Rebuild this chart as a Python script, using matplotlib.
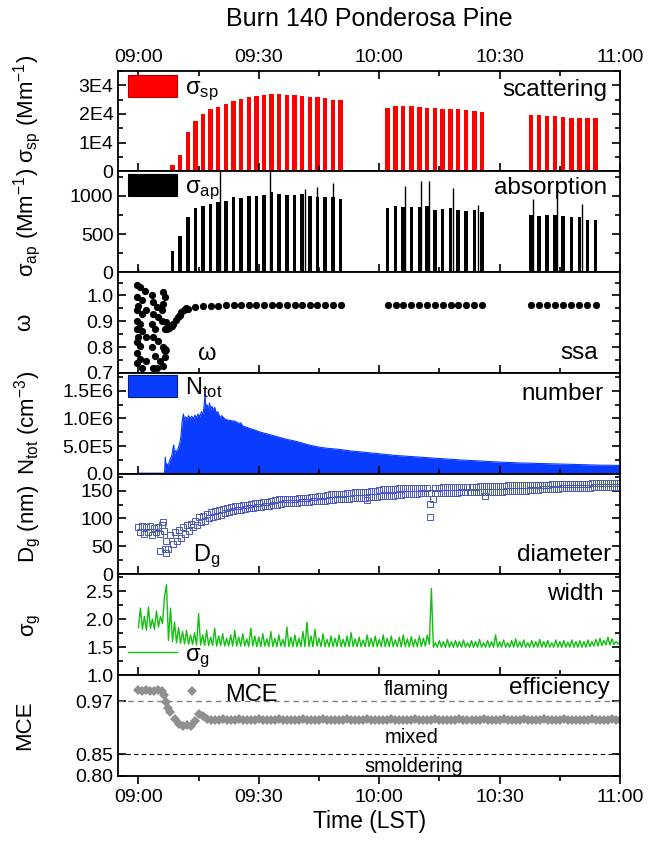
import numpy as np
import matplotlib
matplotlib.use('Agg')
import matplotlib.pyplot as plt
from matplotlib.patches import Patch
from matplotlib.lines import Line2D
from matplotlib.ticker import MultipleLocator, FuncFormatter

plt.rcParams['font.family'] = ['Liberation Sans', 'DejaVu Sans']
plt.rcParams['mathtext.fontset'] = 'custom'
plt.rcParams['mathtext.rm'] = 'Liberation Sans'
plt.rcParams['mathtext.it'] = 'Liberation Sans:italic'
plt.rcParams['mathtext.default'] = 'regular'

# ── Data (time = minutes after 09:00 LST) ─────────────────────
bar_t = [8.5, 10.4, 12.3, 14.2, 16.1, 18.0, 19.9, 21.8, 23.7, 25.6, 27.5, 29.4,
         31.3, 33.2, 35.1, 37.0, 38.9, 40.8, 42.7, 44.6, 46.5, 48.5, 50.4,
         62.1, 64.1, 66.0, 68.0, 70.0, 71.9, 73.9, 75.8, 77.8, 79.7, 81.7, 83.7, 85.6,
         97.8, 99.8, 101.8, 103.8, 105.8, 107.9, 109.9, 111.9, 113.9]
sca = [2300, 5800, 13700, 17500, 20000, 21600, 22400, 23600, 24400, 25300, 25900, 26200,
       26500, 26800, 26800, 26700, 26500, 26200, 26000, 25700, 25500, 24800, 25000,
       22200, 22800, 22800, 22600, 22400, 22200, 21900, 21800, 21700, 21600, 21500, 21100, 20800,
       19700, 19500, 19400, 19100, 18900, 18700, 18700, 18600, 18600]
absn = [280, 470, 730, 840, 870, 890, 920, 935, 985, 975, 995, 995,
        1015, 1045, 1030, 1010, 1010, 1030, 1000, 985, 985, 990, 960,
        842, 864, 860, 855, 860, 870, 820, 829, 835, 811, 798, 810, 790,
        754, 741, 754, 745, 740, 723, 730, 688, 680]

pre_t = [0.9, 2.8, 4.7, 6.6]
pre_sca = [150, 150, 150, 400]
pre_abs = [15, 12, 12, 12]

spike_t = [0.0, 20.3, 32.7, 41.4, 44.5, 48.4, 66.4, 70.5, 72.5, 78.5, 84.5, 98.3, 104.4, 110.5]
spike_v = [60, 1500, 1500, 1090, 1115, 1170, 1127, 1193, 1200, 1105, 877, 965, 974, 894]

ssa_early_t = [-0.4, 0.4, -0.4, 0.8, 0.0, -0.4, 0.8, -0.4, 0.4, -0.4, 0.8, 0.0, -0.4, 0.4,
               -0.4, 0.4, -0.4, 0.8, 1.6, 1.8, 1.8, 1.8,
               3.3, 3.7, 4.6, 3.7, 5.0, 3.3, 4.1, 5.8, 6.2, 6.6, 6.2, 5.8, 3.7, 5.0,
               6.2, 3.3, 4.1, 5.4, 4.6, 6.2, 3.7, 6.6, 6.6, 7.0,
               7.2, 7.6, 7.9, 8.3, 8.7, 9.3, 9.9, 10.3, 10.7, 11.3, 11.9]
ssa_early = [1.039, 1.032, 0.994, 0.981, 0.961, 0.942, 0.929, 0.903, 0.890, 0.870, 0.864,
             0.838, 0.818, 0.805, 0.779, 0.753, 0.740, 0.721, 1.019, 0.942, 0.838, 0.747,
             1.000, 0.974, 0.955, 0.929, 0.916, 0.890, 0.870, 0.903, 1.013, 0.994, 0.968,
             0.942, 0.838, 0.825, 0.799, 0.799, 0.766, 0.747, 0.721, 0.727, 0.721, 0.760,
             0.870, 0.896,
             0.870, 0.875, 0.877, 0.880, 0.890, 0.905, 0.916, 0.925, 0.935, 0.945, 0.953]

ntot_t = [0, 2, 4, 6.5, 6.7, 6.9, 7.1, 7.4, 7.7, 8.0, 8.3, 8.6, 8.8, 9.0, 9.3, 9.6,
          10.0, 10.4, 10.7, 10.9, 11.2, 11.5, 11.8, 12.1, 12.5, 12.9, 13.3, 13.7,
          14.1, 14.5, 14.9, 15.3, 15.7, 16.1, 16.4, 16.6, 16.8, 17.1, 17.4, 17.7,
          18.0, 18.3, 18.6, 19.0, 19.4, 19.8, 20.3, 20.8, 21.5, 22.2, 23.0, 24.0,
          25.0, 25.5, 26.0, 27.0, 28.0, 29.0, 30.0, 31.5, 33.0, 35.0, 37.0, 39.0,
          41.0, 43.0, 45.0, 47.0, 50.0, 53.0, 56.0, 60.0, 64.0, 68.0, 72.0, 76.0,
          80.0, 85.0, 90.0, 95.0, 100.0, 105.0, 110.0, 115.0, 120.0]
ntot = [0.01, 0.01, 0.01, 0.01, 0.30, 0.12, 0.18, 0.14, 0.22, 0.28, 0.32, 0.45, 0.52, 0.35, 0.42, 0.40,
        0.48, 0.58, 0.75, 0.95, 1.08, 0.96, 1.03, 0.98, 1.05, 1.00, 1.04, 0.99,
        1.06, 1.01, 1.08, 1.03, 1.12, 1.08, 1.25, 1.43, 1.18, 1.25, 1.12, 1.28,
        1.15, 1.22, 1.15, 1.20, 1.10, 1.12, 1.02, 1.05, 0.99, 0.97, 0.96, 0.95,
        0.91, 0.92, 0.86, 0.84, 0.81, 0.79, 0.76, 0.73, 0.70, 0.66, 0.62, 0.59,
        0.55, 0.51, 0.48, 0.46, 0.44, 0.41, 0.39, 0.36, 0.33, 0.31, 0.29, 0.27,
        0.25, 0.23, 0.21, 0.195, 0.185, 0.175, 0.165, 0.155, 0.15]

dg_t_upper = np.arange(0, 121)
dg_t_lower = np.arange(0.5, 121)
dg_upper = [85, 87, 84, 86, 83, 85, 88, 60, 70, 76, 80, 84, 88, 91, 96, 102, 105, 108, 111, 114,
            116, 117, 119, 121, 122, 123, 124, 125, 126, 127, 128, 129, 130, 131, 133, 134, 134, 134, 135, 135,
            136, 137, 137, 138, 139, 140, 141, 142, 143, 144, 144, 144, 145, 146, 147, 147, 148, 148, 149, 150,
            151, 152, 152, 153, 153, 154, 154, 154, 154, 155, 155, 155, 155, 146, 155, 155, 156, 156, 156, 156,
            157, 157, 157, 157, 157, 158, 158, 158, 158, 158, 158, 158, 159, 159, 159, 159, 159, 160, 160, 160,
            160, 160, 160, 161, 161, 161, 161, 161, 162, 162, 162, 162, 162, 163, 163, 163, 163, 163, 164, 164, 164]
dg_lower = [76, 72, 76, 71, 75, 73, 78, 46, 54, 60, 66, 72, 78, 84, 88, 93, 96, 100, 102, 105,
            107, 109, 111, 113, 115, 116, 117, 118, 119, 120, 121, 122, 123, 124, 125, 126, 127, 127, 128, 128,
            129, 130, 130, 131, 131, 132, 132, 133, 133, 134, 134, 135, 135, 136, 136, 137, 137, 138, 138, 139,
            140, 140, 141, 141, 142, 142, 143, 143, 144, 144, 145, 145, 145, 134, 145, 145, 146, 146, 146, 146,
            147, 147, 147, 147, 147, 148, 148, 148, 148, 148, 148, 149, 149, 149, 150, 150, 150, 151, 151, 151,
            152, 152, 152, 153, 153, 154, 154, 154, 154, 155, 155, 155, 155, 156, 156, 156, 156, 157, 157, 157, 157]
dg_out_t = [6.2, 6.6, 7.0, 72.6, 72.6, 57.0, 86.3]
dg_out = [93, 45, 38, 126, 103, 133, 140]

sg_t = np.arange(0, 120.5, 0.5)
sg = [1.85, 2.20, 1.82, 2.05, 1.80, 2.22, 1.84, 2.00, 1.82, 2.15, 1.86, 2.05, 1.92, 2.40, 2.62, 1.62, 2.20, 1.60, 1.95, 1.58,
      1.85, 1.57, 1.78, 1.56, 1.80, 1.55, 1.72, 1.55, 1.76, 1.54, 2.10, 1.54, 1.72, 1.53, 1.80, 1.53, 1.68, 1.53, 1.84, 1.52,
      1.70, 1.53, 1.74, 1.52, 1.66, 1.52, 1.72, 1.52, 1.80, 1.52, 1.68, 1.52, 1.74, 1.52, 1.65, 1.51, 1.84, 1.52, 1.70, 1.51,
      1.68, 1.51, 1.74, 1.52, 1.65, 1.51, 1.78, 1.51, 1.66, 1.51, 1.72, 1.52, 1.64, 1.51, 1.86, 1.51, 1.68, 1.51, 1.72, 1.51,
      1.66, 1.51, 1.78, 1.51, 1.95, 1.51, 1.70, 1.51, 1.82, 1.52, 1.66, 1.51, 1.74, 1.51, 1.64, 1.51, 1.70, 1.51, 1.66, 1.51,
      1.72, 1.51, 1.64, 1.51, 1.70, 1.51, 1.76, 1.51, 1.65, 1.51, 1.68, 1.51, 1.63, 1.51, 1.72, 1.51, 1.66, 1.51, 1.70, 1.51,
      1.64, 1.51, 1.72, 1.51, 1.66, 1.51, 1.70, 1.51, 1.63, 1.51, 1.68, 1.51, 1.72, 1.51, 1.65, 1.51, 1.69, 1.51, 1.64, 1.51,
      1.70, 1.51, 1.66, 1.52, 1.72, 1.55, 2.55, 1.50, 1.58, 1.50, 1.62, 1.50, 1.60, 1.50, 1.64, 1.50, 1.60, 1.50, 1.62, 1.50,
      1.60, 1.50, 1.63, 1.50, 1.58, 1.50, 1.62, 1.50, 1.60, 1.50, 1.64, 1.50, 1.58, 1.50, 1.62, 1.50, 1.60, 1.50, 1.72, 1.50,
      1.60, 1.50, 1.63, 1.50, 1.58, 1.50, 1.62, 1.50, 1.65, 1.50, 1.60, 1.50, 1.63, 1.50, 1.58, 1.50, 1.62, 1.50, 1.60, 1.50,
      1.64, 1.50, 1.60, 1.50, 1.62, 1.50, 1.58, 1.50, 1.63, 1.50, 1.60, 1.50, 1.62, 1.50, 1.59, 1.50, 1.63, 1.50, 1.60, 1.50,
      1.62, 1.50, 1.60, 1.50, 1.63, 1.51, 1.60, 1.52, 1.64, 1.52, 1.66, 1.53, 1.62, 1.54, 1.68, 1.54, 1.65, 1.55, 1.60, 1.56,
      1.58]

mce_t = [0, 1, 2, 3, 4, 5, 6, 6.5, 7, 7.5, 8, 9, 10, 11, 12, 13, 14, 15, 16, 17, 18] + list(range(19, 121))
mce = [0.996, 0.994, 0.997, 0.995, 0.993, 0.996, 0.994, 0.985, 0.968, 0.955, 0.945, 0.930, 0.918,
       0.914, 0.916, 0.915, 0.925, 0.942, 0.936, 0.929, 0.928,
       0.928, 0.927, 0.929, 0.928, 0.927, 0.928, 0.929, 0.928, 0.927, 0.928,
       0.928, 0.929, 0.927, 0.928, 0.928, 0.927, 0.929, 0.928, 0.928, 0.927,
       0.928, 0.928, 0.929, 0.928, 0.927, 0.928, 0.928, 0.929, 0.928, 0.927,
       0.928, 0.927, 0.928, 0.929, 0.928, 0.928, 0.927, 0.928, 0.929, 0.928,
       0.928, 0.928, 0.927, 0.928, 0.929, 0.928, 0.928, 0.927, 0.928, 0.928,
       0.929, 0.928, 0.927, 0.928, 0.928, 0.929, 0.928, 0.927, 0.928, 0.928,
       0.928, 0.929, 0.928, 0.927, 0.928, 0.928, 0.928, 0.929, 0.928, 0.927,
       0.928, 0.928, 0.929, 0.928, 0.927, 0.928, 0.928, 0.929, 0.928, 0.928,
       0.927, 0.928, 0.929, 0.928, 0.928, 0.927, 0.928, 0.929, 0.928, 0.928,
       0.928, 0.927, 0.928, 0.928, 0.929, 0.928, 0.927, 0.928, 0.928, 0.929,
       0.927, 0.928]
mce_flaming = 0.97
mce_smolder = 0.85

ssa = [s / (s + a) for s, a in zip(sca, absn)]

# ── Figure ───────────────────────────────────────────────────
fig, axes = plt.subplots(7, 1, sharex=True, figsize=(6.48, 8.5), dpi=100)
fig.subplots_adjust(left=0.1826, right=0.9568, top=0.9168, bottom=0.0871, hspace=0)

TICK = 14
YLAB = 16
LEG = dict(loc='center left', frameon=False, fontsize=17, handlelength=2.08,
           handleheight=1.06, handletextpad=0.34, borderpad=0, borderaxespad=0)


def fmt_time(m, pos=None):
    m = int(round(m))
    return f'{9 + m // 60:02d}:{m % 60:02d}'


for i, ax in enumerate(axes):
    for sp in ax.spines.values():
        sp.set_linewidth(1.3)
    ax.set_xlim(-5, 120)
    ax.xaxis.set_major_locator(MultipleLocator(30))
    ax.xaxis.set_minor_locator(MultipleLocator(15))
    ax.xaxis.set_major_formatter(FuncFormatter(fmt_time))
    ax.tick_params(axis='both', which='both', direction='in', labelsize=TICK,
                   right=True, top=(i == 0), width=1.2)
    ax.tick_params(which='major', length=6)
    ax.tick_params(which='minor', length=3.5)
    ax.tick_params(axis='x', labelbottom=(i == 6), labeltop=(i == 0))


def panel_text(ax, x, y, s):
    ax.text(x, y, s, transform=ax.transAxes, ha='right', va='center', fontsize=17.5)


# scattering
ax = axes[0]
ax.bar(pre_t, pre_sca, width=1.1, color='#ff0000', linewidth=0)
ax.bar(bar_t, sca, width=1.1, color='#ff0000', linewidth=0)
ax.set_ylim(0, 35000)
ax.set_yticks([0, 10000, 20000, 30000], ['0', '1E4', '2E4', '3E4'])
ax.yaxis.set_minor_locator(MultipleLocator(5000))
ax.set_ylabel('σ$_{sp}$ (Mm$^{-1}$)', fontsize=YLAB)
ax.legend(handles=[Patch(fc='#ff0000', ec='#b00000', lw=0.8)], labels=['σ$_{sp}$'],
          bbox_to_anchor=(0.019, 0.823), **LEG)
panel_text(ax, 0.974, 0.81, 'scattering')
ax.set_title('Burn 140 Ponderosa Pine', fontsize=18, pad=32, x=0.5)

# absorption
ax = axes[1]
ax.bar(pre_t, pre_abs, width=0.9, color='black', linewidth=0)
ax.bar(bar_t, absn, width=0.9, color='black', linewidth=0)
ax.vlines(spike_t, 0, spike_v, color='black', lw=1.0)
ax.set_ylim(0, 1320)
ax.set_yticks([0, 500, 1000], ['0', '500', '1000'])
ax.yaxis.set_minor_locator(MultipleLocator(250))
ax.set_ylabel('σ$_{ap}$ (Mm$^{-1}$)', fontsize=YLAB)
ax.legend(handles=[Patch(fc='black', ec='black', lw=0.8)], labels=['σ$_{ap}$'],
          bbox_to_anchor=(0.019, 0.836), **LEG)
panel_text(ax, 0.974, 0.836, 'absorption')

# single scattering albedo
ax = axes[2]
ax.plot(ssa_early_t, ssa_early, 'o', color='black', ms=5.2, mew=0)
ax.plot(bar_t, ssa, 'o', color='black', ms=5.2, mew=0)
ax.set_ylim(0.7, 1.09)
ax.set_yticks([0.7, 0.8, 0.9, 1.0], ['0.7', '0.8', '0.9', '1.0'])
ax.yaxis.set_minor_locator(MultipleLocator(0.05))
ax.set_ylabel('ω', fontsize=YLAB)
ax.legend(handles=[Line2D([], [], ls='none', marker='o', color='black', ms=5.2)], labels=['ω'],
          bbox_to_anchor=(0.045, 0.2), **LEG)
panel_text(ax, 0.956, 0.2, 'ssa')

# number concentration
ax = axes[3]
ax.fill_between(ntot_t, 0, np.array(ntot) * 1e6, color='#0a3cff', linewidth=0)
ax.plot(ntot_t, np.array(ntot) * 1e6, color='#0a3cff', lw=0.8)
ax.set_ylim(0, 1.82e6)
ax.set_yticks([0, 5e5, 1e6, 1.5e6], ['0.0', '5.0E5', '1.0E6', '1.5E6'])
ax.yaxis.set_minor_locator(MultipleLocator(2.5e5))
ax.set_ylabel('N$_{tot}$ (cm$^{-3}$)', fontsize=YLAB)
ax.legend(handles=[Patch(fc='#0a3cff', ec='#002080', lw=0.8)], labels=['N$_{tot}$'],
          bbox_to_anchor=(0.019, 0.857), **LEG)
panel_text(ax, 0.968, 0.79, 'number')

# geometric mean diameter
ax = axes[4]
sq = dict(ls='none', marker='s', mfc='none', mec='#4a5ab4', ms=3.8, mew=0.7)
ax.plot(dg_t_upper, dg_upper, **sq)
ax.plot(dg_t_lower, dg_lower, **sq)
ax.plot(dg_out_t, dg_out, **sq)
ax.set_ylim(0, 180)
ax.set_yticks([0, 50, 100, 150], ['0', '50', '100', '150'])
ax.yaxis.set_minor_locator(MultipleLocator(25))
ax.set_ylabel('D$_{g}$ (nm)', fontsize=YLAB)
ax.legend(handles=[Line2D([], [], **sq)], labels=['D$_{g}$'],
          bbox_to_anchor=(0.034, 0.186), **LEG)
panel_text(ax, 0.983, 0.195, 'diameter')

# geometric width
ax = axes[5]
ax.plot(sg_t, sg, color='#12c012', lw=1.0)
ax.set_ylim(1.0, 2.8)
ax.set_yticks([1.0, 1.5, 2.0, 2.5], ['1.0', '1.5', '2.0', '2.5'])
ax.yaxis.set_minor_locator(MultipleLocator(0.25))
ax.set_ylabel('σ$_{g}$', fontsize=YLAB)
ax.legend(handles=[Line2D([], [], color='#12c012', lw=1)], labels=['σ$_{g}$'],
          bbox_to_anchor=(0.019, 0.187), **LEG)
panel_text(ax, 0.967, 0.81, 'width')

# modified combustion efficiency
ax = axes[6]
ax.axhline(mce_flaming, color='#808080', lw=1, ls=(0, (4, 3)))
ax.axhline(mce_smolder, color='black', lw=0.8, ls=(0, (4, 3)))
ax.plot(mce_t, mce, ls='none', marker='D', color='#8f8f8f', ms=5, mew=0)
ax.set_ylim(0.80, 1.03)
ax.set_yticks([0.80, 0.85, 0.97], ['0.80', '0.85', '0.97'])
ax.yaxis.set_minor_locator(plt.NullLocator())
ax.set_ylabel('MCE', fontsize=YLAB)
ax.legend(handles=[Line2D([], [], ls='none', marker='D', color='#8f8f8f', ms=5, mew=0)],
          labels=['MCE'], bbox_to_anchor=(0.098, 0.816), **LEG)
panel_text(ax, 0.98, 0.876, 'efficiency')
ax.text(69.3, 0.998, 'flaming', ha='center', va='center', fontsize=14.5)
ax.text(68.0, 0.888, 'mixed', ha='center', va='center', fontsize=14.5)
ax.text(68.7, 0.821, 'smoldering', ha='center', va='center', fontsize=14.5)
ax.tick_params(axis='x', which='both', direction='out')
ax.set_xlabel('Time (LST)', fontsize=16.5, labelpad=3)

label_x = [-0.15, -0.15, -0.165, -0.15, -0.15, -0.15, -0.165]
label_y = [0.62, 0.49, 0.5, 0.5, 0.5, 0.5, 0.5]
for ax, lx, ly in zip(axes, label_x, label_y):
    ax.yaxis.set_label_coords(lx, ly)

fig.savefig('out.png', dpi=100)
